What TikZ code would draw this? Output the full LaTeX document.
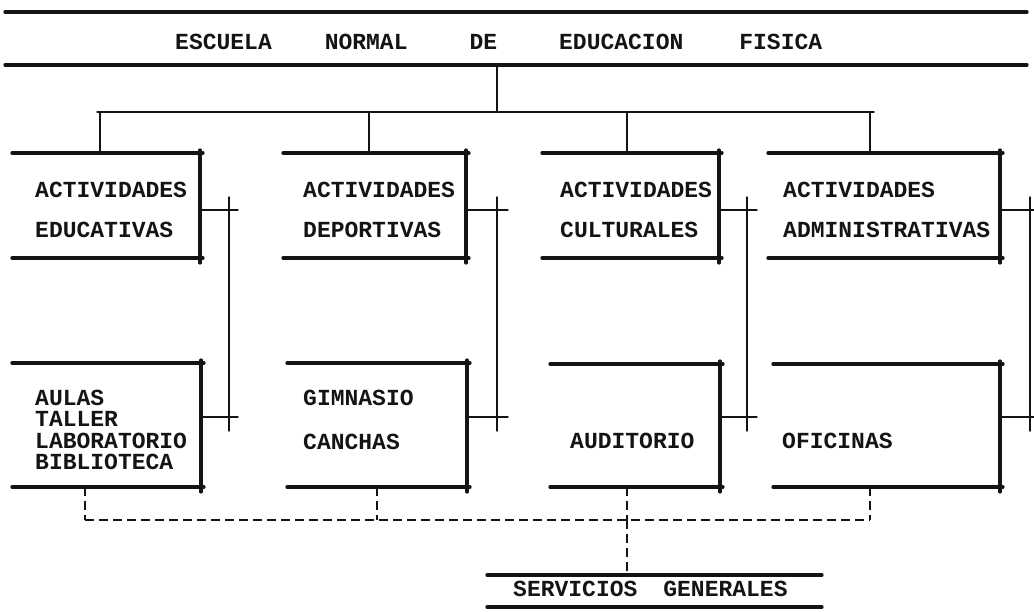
\documentclass[tikz,border=0pt]{standalone}
\usepackage{fontspec}
\setmonofont{Liberation Mono}
\usetikzlibrary{calc}
\definecolor{inkC}{HTML}{141414}

\begin{document}
\begin{tikzpicture}[
  x=1pt,
  y=-1pt,
  line cap=round,
  line join=round,
  heavy/.style={inkC, line width=3.2pt},
  thinlink/.style={inkC, line width=1.4pt},
  dashlink/.style={inkC, line width=1.4pt, line cap=butt, dash pattern=on 9pt off 5pt},
  boxtext/.style={inkC, anchor=west, align=left, inner sep=0pt,
    font=\ttfamily\bfseries\fontsize{23}{40}\selectfont},
  headtext/.style={inkC, anchor=west, inner sep=0pt,
    font=\ttfamily\bfseries\fontsize{23}{26}\selectfont}
]
\useasboundingbox (0,0) rectangle (1034,612);

% Title band
\draw[heavy] (5,12) -- (1027,12);
\draw[heavy] (5,65) -- (1027,65);
\node[headtext] (title) at (175,41.5)
  {ESCUELA\hspace{53pt}NORMAL\hspace{62pt}DE\hspace{62pt}EDUCACION\hspace{56pt}FISICA};

% Distribution bus
\coordinate (hub) at (497,65);
\coordinate (bus) at (497,112);
\coordinate (busW) at (97,112);
\coordinate (busE) at (874,112);
\draw[thinlink] (hub) -- (bus);
\draw[thinlink] (busW) -- (busE);

% Open boxes: left / right / top / bottom / drop x / name
\foreach \l/\r/\t/\b/\d/\n in {
  12/200/153/258/100/ae,
  283/466/153/258/369/ad,
  542/719/153/258/627/ac,
  768/1000/153/258/870/aa,
  12/201/363/487/85/ue,
  287/467/363/487/377/ud,
  550/720/364/487/627/uc,
  773/1000/364/487/870/ua}{
  \draw[heavy] (\l,\t) -- (\r+3,\t);
  \draw[heavy] (\l,\b) -- (\r+3,\b);
  \draw[heavy] (\r,\t-3) -- (\r,\b+5);
  \coordinate (\n-top) at (\d,\t);
  \coordinate (\n-foot) at (\d,\b);
}

% Drops from the bus
\foreach \n in {ae,ad,ac,aa}{
  \draw[thinlink] (bus -| \n-top) -- (\n-top);
}

% Side links between rows
\foreach \a/\u/\r/\g/\s in {ae/ue/200/29/38, ad/ud/466/31/42, ac/uc/719/28/38, aa/ua/1000/30/34}{
  \coordinate (\a-side) at (\r,210);
  \coordinate (\u-side) at (\r,417);
  \draw[thinlink] (\a-side) -- ++(\s,0);
  \draw[thinlink] (\u-side) -- ++(\s,0);
  \draw[thinlink] ($(\a-side)+(\g,-13)$) -- ($(\u-side)+(\g,14)$);
}

% Box labels
\node[boxtext] (educ) at (35,210) {ACTIVIDADES\\EDUCATIVAS};
\node[boxtext] (depo) at (303,210) {ACTIVIDADES\\DEPORTIVAS};
\node[boxtext] (cult) at (560,210) {ACTIVIDADES\\CULTURALES};
\node[boxtext] (admi) at (783,210) {ACTIVIDADES\\ADMINISTRATIVAS};
\node[boxtext, font=\ttfamily\bfseries\fontsize{23}{21.3}\selectfont] (aulas) at (35,430)
  {AULAS\\TALLER\\LABORATORIO\\BIBLIOTECA};
\node[boxtext, font=\ttfamily\bfseries\fontsize{23}{44}\selectfont] (gimn) at (303,420)
  {GIMNASIO\\CANCHAS};
\node[boxtext] (audi) at (570,441) {AUDITORIO};
\node[boxtext] (ofic) at (782,441) {OFICINAS};

% Shared services
\coordinate (svcTop) at (627,575);
\coordinate (dashRow) at (627,520);
\foreach \n in {ue,ud,uc,ua}{
  \draw[dashlink] (\n-foot) -- (dashRow -| \n-foot);
}
\draw[dashlink] (dashRow -| ue-foot) -- (dashRow -| ua-foot);
\draw[dashlink] (dashRow) -- (svcTop);
\draw[heavy] (487,575) -- (822,575);
\node[headtext] (svc) at (513,589) {SERVICIOS\hspace{26pt}GENERALES};
\draw[heavy] (487,607) -- (822,607);

\end{tikzpicture}
\end{document}
